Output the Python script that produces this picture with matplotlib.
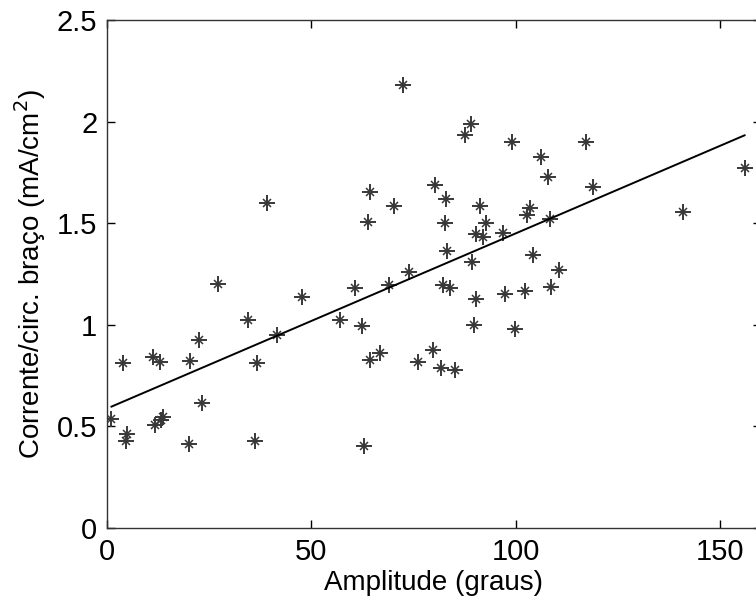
import numpy as np
import matplotlib
matplotlib.use("Agg")
import matplotlib.pyplot as plt

plt.rcParams['font.family'] = ['Liberation Sans', 'DejaVu Sans']

# amplitude (graus) x corrente/circ. braço
amplitude = [1.1, 3.8, 4.6, 4.8, 11.3, 11.7, 13.0, 13.2, 13.8, 20.0, 20.3, 22.6,
             23.3, 27.1, 34.4, 36.2, 36.8, 39.2, 41.7, 47.8, 57.0, 60.6, 62.5,
             62.8, 63.9, 64.3, 64.3, 66.9, 69.0, 70.2, 72.4, 73.9, 76.1, 79.8,
             80.2, 81.7, 82.2, 82.8, 83.0, 83.2, 83.9, 85.1, 87.7, 89.1, 89.2,
             89.8, 90.2, 90.2, 91.2, 92.0, 92.8, 96.9, 97.3, 99.1, 99.8, 102.4,
             102.8, 103.6, 104.2, 106.1, 107.9, 108.3, 108.7, 110.6, 117.1,
             118.9, 140.9, 156.0]
corrente = [0.535, 0.813, 0.426, 0.465, 0.84, 0.507, 0.818, 0.53, 0.545, 0.413,
            0.82, 0.925, 0.614, 1.20, 1.024, 0.428, 0.81, 1.60, 0.95, 1.135,
            1.024, 1.18, 0.994, 0.405, 1.504, 1.655, 0.827, 0.863, 1.196, 1.586,
            2.18, 1.26, 0.815, 0.876, 1.69, 0.79, 1.196, 1.50, 1.62, 1.365,
            1.18, 0.777, 1.934, 1.99, 1.307, 0.999, 1.447, 1.127, 1.586, 1.434,
            1.50, 1.45, 1.15, 1.90, 0.979, 1.166, 1.54, 1.573, 1.343, 1.827,
            1.73, 1.52, 1.188, 1.27, 1.90, 1.677, 1.557, 1.773]

# reta de regressão
fit_slope = 0.00862
fit_intercept = 0.588

xticks = [0, 50, 100, 150]
yticks = [0, 0.5, 1, 1.5, 2, 2.5]
ytick_labels = ['0', '0.5', '1', '1.5', '2', '2.5']

x = np.array(amplitude)
y = np.array(corrente)

fig = plt.figure(figsize=(7.56, 6.04), dpi=100)
ax = fig.add_axes([0.1415, 0.1258, 0.865, 0.841])

pc = '#383838'
# asterisco estilo MATLAB: '+' com 'x' menor por cima
ax.plot(x, y, linestyle='none', marker='+', ms=12, mew=1.4, color=pc)
ax.plot(x, y, linestyle='none', marker='x', ms=6, mew=1.1, color=pc)

xl = np.array([x.min(), x.max()])
ax.plot(xl, fit_intercept + fit_slope * xl, color='black', lw=1.4)

ax.set_xlim(0, 160)
ax.set_ylim(0, 2.5)
ax.set_xticks(xticks)
ax.set_yticks(yticks)
ax.set_yticklabels(ytick_labels)
ax.tick_params(direction='in', length=6, width=1, top=True, right=True,
               labelsize=21, pad=7, colors='black')
for s in ax.spines.values():
    s.set_linewidth(1.0)
    s.set_color('#333333')

ax.set_xlabel('Amplitude (graus)', fontsize=20, labelpad=3)
ax.set_ylabel('Corrente/circ. braço (mA/cm$^2$)', fontsize=20, labelpad=6)

fig.savefig('out.png', dpi=100)
